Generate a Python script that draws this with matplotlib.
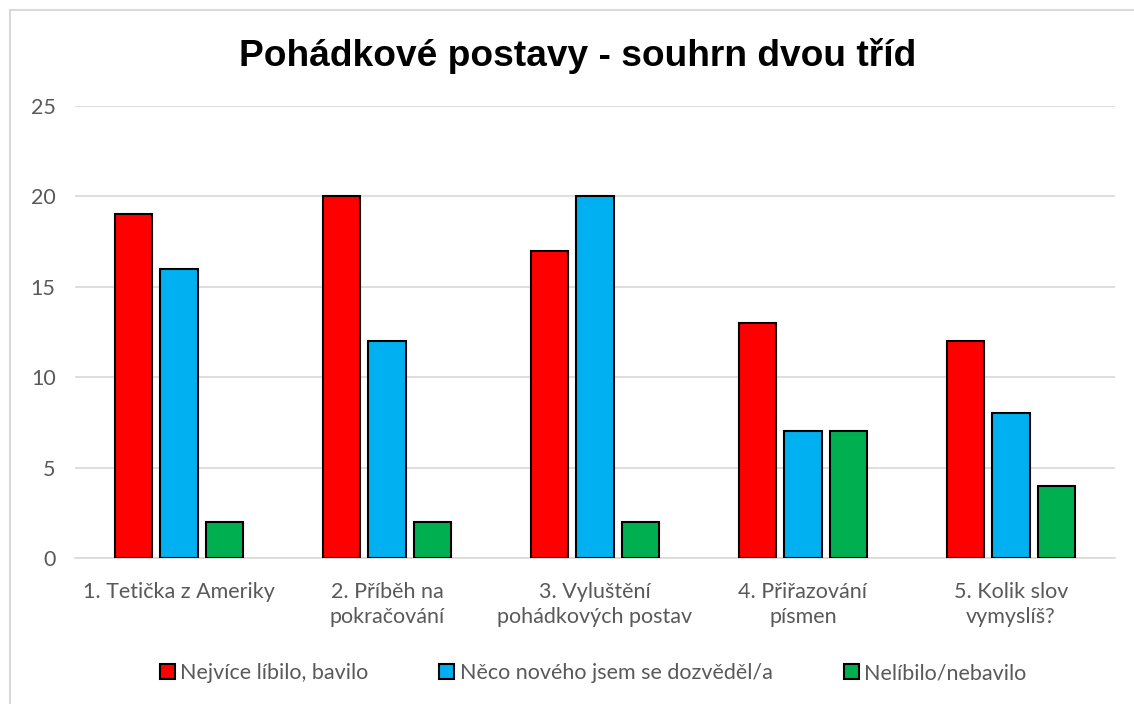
import numpy as np
import matplotlib.pyplot as plt
from matplotlib.patches import Rectangle

categories = [
    "1. Tetička z Ameriky",
    "2. Příběh na\npokračování",
    "3. Vyluštění\npohádkových postav",
    "4. Přiřazování\npísmen",
    "5. Kolik slov\nvymyslíš?",
]
series_names = [
    "Nejvíce líbilo, bavilo",
    "Něco nového jsem se dozvěděl/a",
    "Nelíbilo/nebavilo",
]
liked = [19, 20, 17, 13, 12]
learned = [16, 12, 20, 7, 8]
disliked = [2, 2, 2, 7, 4]
colors = ["#FF0000", "#00B0F0", "#00B050"]

plt.rcParams['font.family'] = ['Lato', 'DejaVu Sans']
grey = "#595959"
fs = 15.5

fig = plt.figure(figsize=(11.34, 7.04), dpi=100)
ax = fig.add_axes([75 / 1134, 1 - 558 / 704, 1040 / 1134, 452 / 704])

# outer chart frame (cut off on right and bottom like the screenshot)
fig.patches.append(Rectangle((10 / 1134, -0.05), 1.2, 1 - 10 / 704 + 0.05,
                             transform=fig.transFigure, fill=False,
                             edgecolor="#D9D9D9", linewidth=1.5))

x = np.arange(len(categories))
width = 0.178
step = 0.221
for i, (vals, name) in enumerate(zip([liked, learned, disliked], series_names)):
    ax.bar(x + (i - 1) * step, vals, width, color=colors[i], edgecolor="black",
           linewidth=1.5, label=name, zorder=3)

ax.set_xlim(-0.5, len(categories) - 0.5)
ax.set_ylim(0, 25)
ax.set_yticks(range(0, 26, 5))
ax.set_xticks(x)
ax.set_xticklabels(categories, color=grey, fontsize=fs, linespacing=1.35)
ax.tick_params(axis='y', colors=grey, labelsize=fs, length=0, pad=14)
ax.tick_params(axis='x', length=0, pad=17)
ax.grid(axis='y', color="#D9D9D9", linewidth=1.2, zorder=0)
for side in ["top", "right", "left"]:
    ax.spines[side].set_visible(False)
ax.spines["bottom"].set_color("#D9D9D9")
ax.spines["bottom"].set_linewidth(1.2)

fig.text(578 / 1134, 1 - 56 / 704, "Pohádkové postavy - souhrn dvou tříd",
         ha="center", va="center", fontsize=26.7, fontweight="bold",
         family=["Liberation Sans", "DejaVu Sans"])

leg = fig.legend(loc="center", bbox_to_anchor=(593 / 1134, 1 - 673 / 704), ncol=3,
                 frameon=False, fontsize=fs, handlelength=0.7, handleheight=0.7,
                 handletextpad=0.25, columnspacing=3.3)
for t in leg.get_texts():
    t.set_color(grey)

fig.savefig("out.png", dpi=100)
